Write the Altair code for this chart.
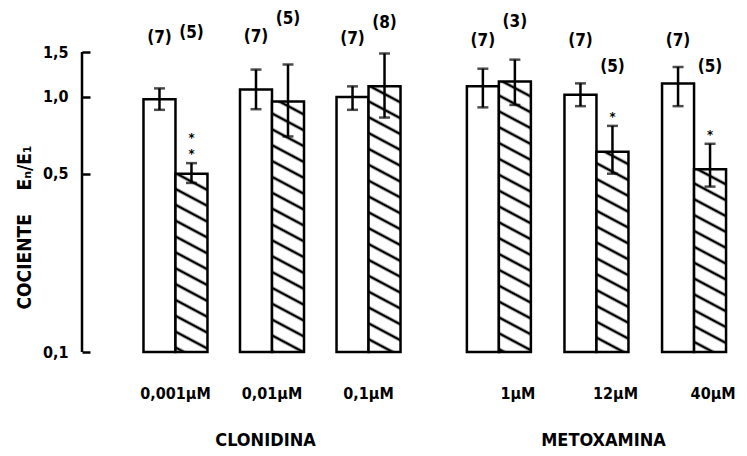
import altair as alt
import pandas as pd

# ---- data -------------------------------------------------------------
conc = ["0,001µM", "0,01µM", "0,1µM", "1µM", "12µM", "40µM"]
drug = ["CLONIDINA", "CLONIDINA", "CLONIDINA", "METOXAMINA", "METOXAMINA", "METOXAMINA"]

# E_n/E_1 ratio, open bars (control)
ctrl_mean = [0.98, 1.07, 1.00, 1.10, 1.02, 1.13]
ctrl_low = [0.89, 0.895, 0.89, 0.91, 0.92, 0.92]
ctrl_high = [1.08, 1.28, 1.10, 1.29, 1.13, 1.31]
ctrl_n = [7, 7, 7, 7, 7, 7]

# E_n/E_1 ratio, hatched bars (with drug)
drug_mean = [0.50, 0.96, 1.10, 1.15, 0.61, 0.52]
drug_low = [0.46, 0.70, 0.83, 0.93, 0.50, 0.445]
drug_high = [0.55, 1.34, 1.48, 1.40, 0.77, 0.655]
drug_n = [5, 5, 8, 3, 5, 5]
drug_sig = ["**", "", "", "", "*", "*"]

y_ticks = [0.1, 0.5, 1.0, 1.5]

# heights (in ratio units) at which the (n) annotations sit
ctrl_n_at = [1.70, 1.72, 1.68, 1.66, 1.66, 1.66]
drug_n_at = [1.78, 2.02, 1.95, 1.97, 1.31, 1.31]

FONT = "DejaVu Sans Condensed, DejaVu Sans, sans-serif"
LW = 2.5

rows = []
for i in range(len(conc)):
    rows.append(dict(conc=conc[i], drug=drug[i], series="control", mean=ctrl_mean[i],
                     low=ctrl_low[i], high=ctrl_high[i], n=f"({ctrl_n[i]})",
                     n_at=ctrl_n_at[i], star1="", star2=""))
    rows.append(dict(conc=conc[i], drug=drug[i], series="drug", mean=drug_mean[i],
                     low=drug_low[i], high=drug_high[i], n=f"({drug_n[i]})",
                     n_at=drug_n_at[i],
                     star1="*" if len(drug_sig[i]) >= 1 else "",
                     star2="*" if len(drug_sig[i]) >= 2 else ""))
df = pd.DataFrame(rows)

yscale = alt.Scale(type="log", domain=[min(y_ticks), max(y_ticks)], nice=False)


def panel(name, width, pad_inner, pad_outer, label_offset, title_x, with_axis):
    d = df[df.drug == name]
    cats = [c for c, g in zip(conc, drug) if g == name]
    xenc = alt.X(
        "conc:N", sort=cats,
        scale=alt.Scale(paddingInner=pad_inner, paddingOuter=pad_outer),
        axis=alt.Axis(title=name, domain=False, ticks=False, labelAngle=0,
                      labelFont=FONT, labelFontSize=16, labelFontWeight="bold",
                      labelColor="black", labelPadding=33, labelOffset=label_offset,
                      titleFont=FONT, titleFontSize=18, titleFontWeight="bold",
                      titleColor="black", titlePadding=30, titleX=title_x),
    )
    xoff = alt.XOffset("series:N", sort=["control", "drug"],
                       scale=alt.Scale(paddingInner=0, paddingOuter=0))
    base = alt.Chart(d).encode(x=xenc, xOffset=xoff)

    if with_axis:
        yaxis = alt.Axis(values=y_ticks, domain=False, grid=False, offset=-8,
                         tickSize=8, tickWidth=LW, tickColor="black",
                         labelExpr="replace(format(datum.value, '.1f'), '.', ',')",
                         labelFont=FONT, labelFontSize=16, labelFontWeight="bold",
                         labelColor="black", labelPadding=14,
                         title="COCIENTE\u00a0\u00a0\u00a0\u00a0Eₙ/E₁", titleFont=FONT,
                         titleFontSize=19, titleFontWeight="bold", titleColor="black",
                         titlePadding=8, titleY=175)
    else:
        yaxis = None

    bars = base.mark_bar(stroke="black", strokeWidth=LW, strokeJoin="miter").encode(
        y=alt.Y("mean:Q", scale=yscale, axis=yaxis),
        y2=alt.datum(min(y_ticks)),
        fill=alt.Fill("series:N", scale=alt.Scale(domain=["control", "drug"],
                                                 range=["white", "url(#hatch)"]),
                      legend=None),
    )
    err = base.mark_rule(color="black", strokeWidth=LW).encode(
        y=alt.Y("low:Q", scale=yscale), y2="high:Q")
    cap_hi = base.mark_tick(color="black", size=11, thickness=LW, orient="horizontal").encode(
        y=alt.Y("high:Q", scale=yscale))
    cap_lo = base.mark_tick(color="black", size=11, thickness=LW, orient="horizontal").encode(
        y=alt.Y("low:Q", scale=yscale))
    n_txt = base.mark_text(font=FONT, fontSize=17, fontWeight="bold", color="black",
                           baseline="middle").encode(
        y=alt.Y("n_at:Q", scale=yscale), text="n:N")
    star_a = base.mark_text(font=FONT, fontSize=13, fontWeight="bold", color="black",
                            baseline="middle", dy=-9).encode(
        y=alt.Y("high:Q", scale=yscale), text="star1:N")
    star_b = base.mark_text(font=FONT, fontSize=13, fontWeight="bold", color="black",
                            baseline="middle", dy=-25).encode(
        y=alt.Y("high:Q", scale=yscale), text="star2:N")

    layers = [bars, err, cap_hi, cap_lo, star_a, star_b, n_txt]
    if with_axis:
        frame = pd.DataFrame({"lo": [min(y_ticks)], "hi": [max(y_ticks)]})
        spine = alt.Chart(frame).mark_rule(color="black", strokeWidth=LW).encode(
            x=alt.value(0), y=alt.Y("lo:Q", scale=yscale), y2="hi:Q")
        layers.append(spine)
    return alt.layer(*layers).properties(width=width, height=300)


left = panel("CLONIDINA", 380, 0.337, 0.637, 0, 183, True)
right = panel("METOXAMINA", 271, 0.323, 0.05, 18, 141, False)

chart = alt.hconcat(left, right, spacing=0).properties(
    padding={"left": 15, "top": 10, "right": 5, "bottom": 5},
    background="white",
).configure_view(stroke=None)

chart.save("out.html", embed_options={"renderer": "svg", "actions": False})

# diagonal hatch used as the fill of the treated bars
hatch_defs = (
    '<svg width="0" height="0" style="position:absolute" aria-hidden="true">'
    '<defs><pattern id="hatch" patternUnits="userSpaceOnUse" width="14" height="14" '
    'patternTransform="rotate(28)">'
    '<rect width="14" height="14" fill="white"/>'
    '<line x1="0" y1="7" x2="14" y2="7" stroke="black" stroke-width="2.6"/>'
    '</pattern></defs></svg>'
)
with open("out.html", encoding="utf-8") as fh:
    html = fh.read()
html = html.replace("<body>", "<body>" + hatch_defs, 1)
with open("out.html", "w", encoding="utf-8") as fh:
    fh.write(html)
